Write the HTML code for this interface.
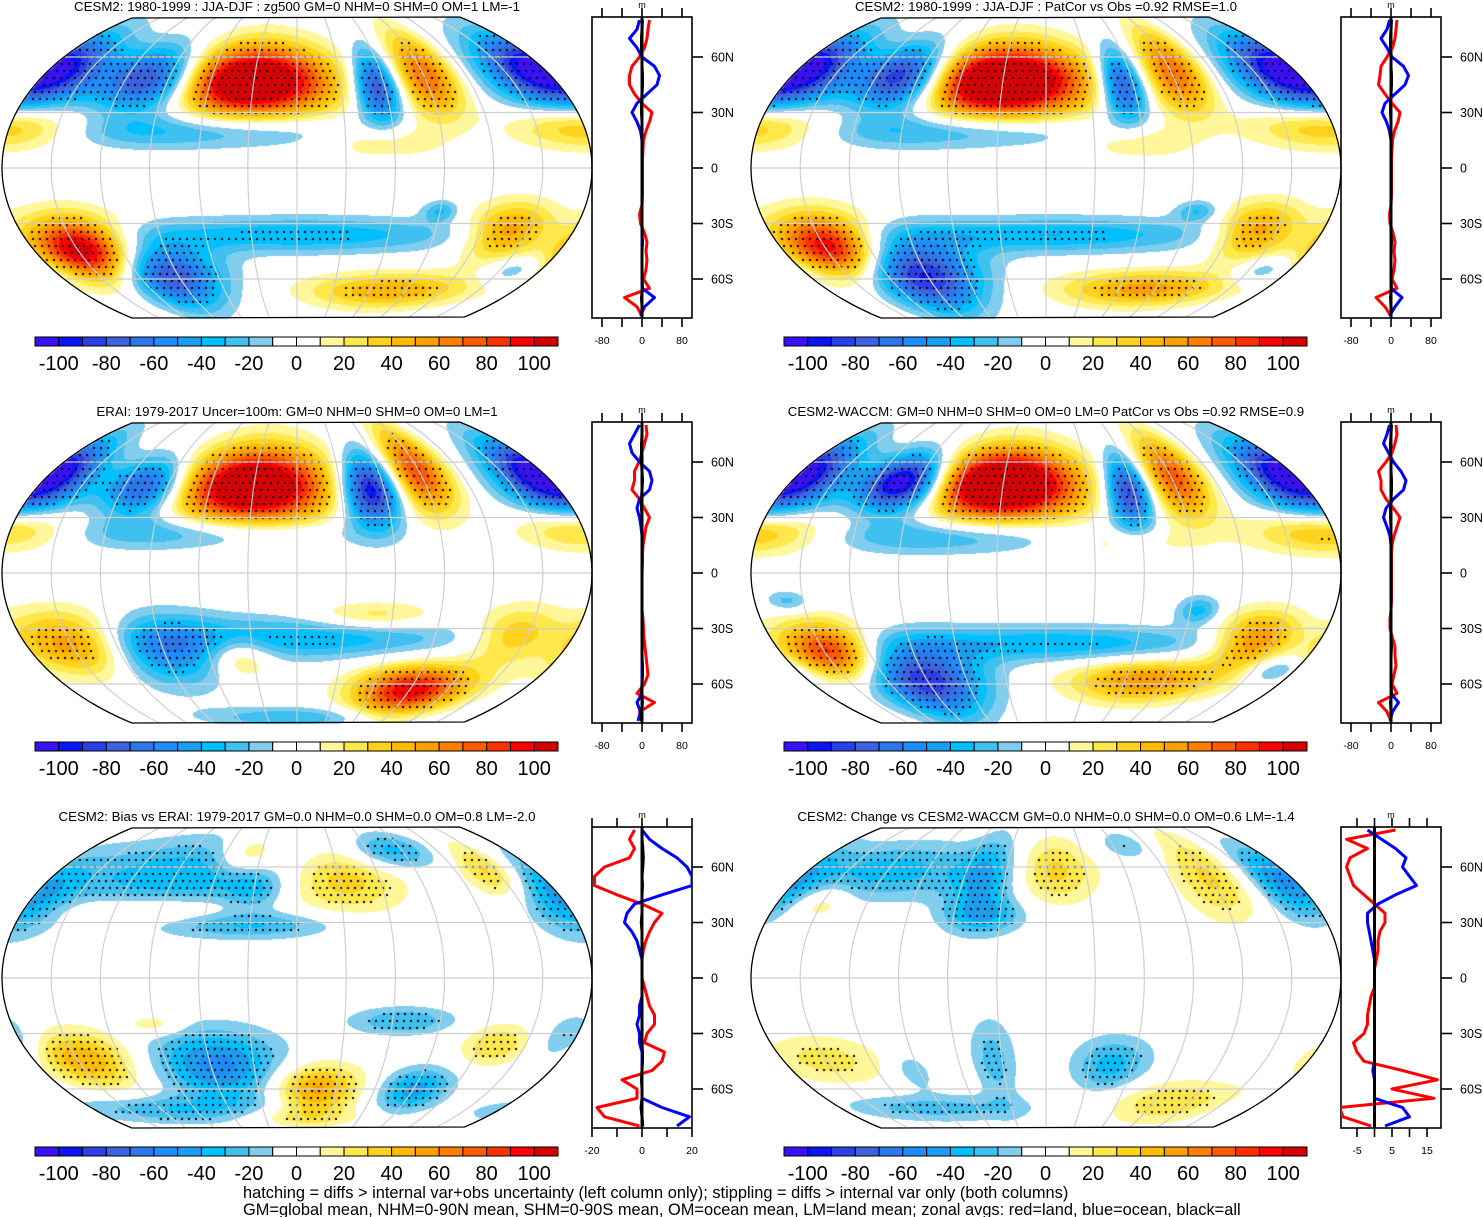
<!DOCTYPE html>
<html><head><meta charset="utf-8">
<style>
html,body{margin:0;padding:0;background:#fff;}
#wrap{position:relative;width:1483px;height:1217px;overflow:hidden;font-family:"Liberation Sans",sans-serif;}
canvas,svg{position:absolute;left:0;top:0;}
</style></head>
<body>
<div id="wrap">
<canvas id="cv" width="1483" height="1217"></canvas>
<svg id="sv" width="1483" height="1217" xmlns="http://www.w3.org/2000/svg">
<text x="243" y="1198" font-size="16.4" font-family="Liberation Sans, sans-serif">hatching = diffs &gt; internal var+obs uncertainty (left column only); stippling = diffs &gt; internal var only (both columns)</text>
<text x="243" y="1215" font-size="16.4" font-family="Liberation Sans, sans-serif">GM=global mean, NHM=0-90N mean, SHM=0-90S mean, OM=ocean mean, LM=land mean; zonal avgs: red=land, blue=ocean, black=all</text>
</svg>
</div>
<script>
// ---------- data ----------
const titles = [
 "CESM2: 1980-1999 : JJA-DJF : zg500 GM=0 NHM=0 SHM=0 OM=1 LM=-1",
 "CESM2: 1980-1999 : JJA-DJF : PatCor vs Obs =0.92 RMSE=1.0",
 "ERAI: 1979-2017 Uncer=100m: GM=0 NHM=0 SHM=0 OM=0 LM=1",
 "CESM2-WACCM: GM=0 NHM=0 SHM=0 OM=0 LM=0 PatCor vs Obs =0.92 RMSE=0.9",
 "CESM2: Bias vs ERAI: 1979-2017 GM=0.0 NHM=0.0 SHM=0.0 OM=0.8 LM=-2.0",
 "CESM2: Change vs CESM2-WACCM GM=0.0 NHM=0.0 SHM=0.0 OM=0.6 LM=-1.4"
];
const cbLabels = [-100,-80,-60,-40,-20,0,20,40,60,80,100];
const cbColors = ["#3a10f5","#0a14f5","#2a40e6","#3d62dd","#2c78ea","#1e8cff","#1a9ff0","#00bfff","#40c0ee","#80cdee","#ffffff","#ffffff","#fff799","#ffe84c","#ffd21e","#ffbb00","#ffa000","#ff8000","#ff5a00","#ff3000","#ff0000","#d60000"];
// field anomalies: [dlon from map centre, lat, sigmaLon, sigmaLat, amplitude(m)]
const field1 = [[-32,47,25,10,140],[-101,48,15,9,-100],[178,52,18,10,-120],[54,44,7,10,-90],[91,50,10,12,70],[-62,20,45,5,-35],[180,22,20,6,50],[52,15,15,5,25],[-146,-44,15,9,120],[-98,-58,18,9,-85],[2,-36,50,5,-40],[76,-66,30,5,50],[137,-34,12,8,60],[90,-23,5,3,-30],[160,-55,10,4,-25]];
const field2 = [[-30,47,26,10,150],[-100,49,14,9,-110],[178,52,18,10,-125],[52,45,7,10,-90],[92,52,10,12,70],[-62,20,45,5,-35],[178,22,22,6,50],[55,15,15,5,25],[-146,-42,15,9,110],[-95,-58,20,10,-95],[5,-36,50,5,-40],[80,-65,30,5,55],[137,-34,12,8,60],[95,-23,6,3,-30],[160,-55,10,4,-25]];
const field3 = [[-30,47,24,11,135],[-105,47,12,8,-85],[178,52,15,10,-125],[50,45,9,10,-110],[88,55,10,12,80],[-62,22,40,5,-35],[180,24,18,6,45],[-146,-38,18,9,70],[-95,-42,20,10,-55],[-40,-45,10,6,35],[90,-63,20,7,100],[140,-33,12,8,40],[48,-23,18,4,30],[0,-35,50,6,-40],[-5,-78,40,3,-30]];
const field4 = [[-30,48,24,10,150],[-100,49,13,8,-130],[178,52,16,10,-120],[56,44,7,10,-95],[92,52,10,12,75],[-62,20,40,5,-35],[178,22,22,6,50],[45,17,18,4,20],[-146,-42,14,8,95],[-92,-58,20,10,-90],[5,-38,50,5,-40],[75,-58,25,6,60],[137,-36,12,8,65],[95,-20,6,4,-35],[165,-52,10,4,-30],[-160,-15,6,3,-25]];
const field5 = [[-80,56,45,10,-40],[-30,48,8,6,-20],[-90,37,30,4,20],[-30,29,25,4,-30],[30,53,20,9,45],[-40,66,12,6,35],[80,69,15,5,-35],[145,58,10,8,40],[178,42,12,10,-40],[66,-23,15,4,-30],[-90,-25,8,3,20],[-145,-44,15,8,50],[-55,-47,20,10,-55],[14,-60,15,7,55],[90,-60,12,6,-45],[130,-36,10,6,30],[175,-33,8,7,-25],[-110,-71,40,4,-30],[-5,-75,30,3,20]];
const field6 = [[-120,58,35,8,-35],[-45,53,10,12,-35],[-40,34,12,5,-30],[6,58,14,9,35],[70,72,10,4,-20],[120,55,12,12,35],[170,50,10,10,-40],[-150,41,8,5,20],[-150,-44,18,7,25],[-95,-50,6,5,-20],[-36,-44,7,12,-25],[45,-47,12,8,-35],[-100,-70,40,4,-25],[105,-67,25,6,30]];
const fields = [field1,field2,field3,field4,field5,field6];
const stippleThr = [35,35,35,35,18,18];

// zonal profiles (lat 80N .. 80S every 5 deg)
const profLats = [80,75,70,65,60,55,50,45,40,35,30,25,20,15,10,5,0,-5,-10,-15,-20,-25,-30,-35,-40,-45,-50,-55,-60,-65,-70,-75,-80];
const red1  = [15,12,10,5,-5,-20,-25,-25,-15,0,20,15,8,3,2,1,1,1,1,1,0,-5,-3,5,10,8,10,8,3,15,-35,-10,0];
const blue1 = [-5,-10,-25,-10,0,25,35,30,10,-10,-20,-10,-3,0,0,0,0,0,0,0,0,0,0,0,0,0,0,0,0,0,25,5,-3];
const blk1  = [1,0,-1,-1,0,0,1,1,0,-1,-1,0,0,0,0,0,0,0,0,0,0,0,0,0,1,0,0,0,0,1,-1,0,0];
const red2  = [12,10,8,3,-8,-20,-22,-25,-12,2,18,14,7,3,2,1,1,1,1,1,0,-3,-2,4,8,6,8,6,2,12,-30,-12,0];
const blue2 = [-3,-8,-20,-8,2,25,35,28,8,-12,-18,-9,-3,0,0,0,0,0,0,0,0,0,0,0,0,0,0,0,0,0,22,8,-3];
const blk2  = [1,0,-1,-1,0,0,1,1,0,-1,-1,0,0,0,0,0,0,0,0,0,0,0,0,0,1,0,0,0,0,1,-1,0,0];
const red3  = [8,10,5,0,-6,-15,-15,-20,-5,5,15,8,5,2,1,1,0,0,0,0,0,2,3,4,6,8,10,12,5,-10,25,-5,0];
const blue3 = [-5,-15,-25,-20,-5,15,20,15,-5,-10,-5,-2,0,0,0,0,0,0,0,0,0,0,0,0,0,0,0,0,0,0,-10,-3,-8];
const blk3  = [0,0,-1,-1,-1,0,1,0,-1,-1,0,0,0,0,0,0,0,0,0,0,0,0,0,0,0,0,1,1,0,-1,1,-1,-1];
const red4  = [10,12,8,2,-10,-25,-20,-20,-10,5,18,12,6,2,1,1,1,1,1,1,0,-2,-2,3,8,8,10,6,2,12,-25,-8,0];
const blue4 = [-3,-8,-15,-5,5,20,30,25,5,-10,-15,-8,-2,0,0,0,0,0,0,0,0,0,0,0,0,0,0,0,0,0,15,3,-2];
const blk4  = [1,0,-1,-1,0,0,1,1,0,-1,-1,0,0,0,0,0,0,0,0,0,0,0,0,0,1,0,0,0,0,1,-1,0,0];
const red5  = [-3,-5,-3,-5,-15,-19,-19,-10,0,8,5,3,1.5,0.5,0,0,0,1,2,3,5,5,2,1,9,8,4,-8,-2,-2,-18,-15,-1];
const blue5 = [0,3,8,14,18,20,20,8,-3,-6,-7,-4,-2,-1,0,0,0,0,0,-1,-1,-2,-1,-1,0,0,0,0,0,0,8,19,14];
const blk5  = [0,0,0.3,0.5,0.3,0,0.2,0,0,0,-0.3,0,0,0,0,0,0,0,0,0,0,0,0,0,0.2,0.2,0,-0.2,0,0,-0.4,0,0.3];
const red6  = [6,-8,-2,-7,-8,-7,-6,-3,0,3,3,1.5,1,1,0.5,0,0,0,-1,-1.5,-2,-2,-3,-6,-5,-3,8,18,5,17,-10,-9,-1];
const blue6 = [-2,2,6,9,8,10,12,6,1,-2,-2,-1.5,-1,-0.5,0,0,0,0,0,0,0,0,0,0,0,0,-0.5,0,0,0,8,10,3];
const blk6  = [0,0,0,0,0,0,0,0,0,0,0,0,0,0,0,0,0,0,0,0,0,0,0,0,0,0,0,0,0,0,0,0,0];
const profRed  = [red1,red2,red3,red4,red5,red6];
const profBlue = [blue1,blue2,blue3,blue4,blue5,blue6];
const profBlk  = [blk1,blk2,blk3,blk4,blk5,blk6];
const profTicks  = [[-80,-40,0,40,80],[-80,-40,0,40,80],[-80,-40,0,40,80],[-80,-40,0,40,80],[-20,-10,0,10,20],[-5,0,5,10,15]];
const profTickLabels = [["-80","0","80"],["-80","0","80"],["-80","0","80"],["-80","0","80"],["-20","0","20"],["-5","5","15"]];
const profTickLabelVals = [[-80,0,80],[-80,0,80],[-80,0,80],[-80,0,80],[-20,0,20],[-5,5,15]];
const profZeroX = [642,642,642,642,642,625.5];
const profScale = [0.5,0.5,0.5,0.5,2.5,3.5];
const latLabels = ["60N","30N","0","30S","60S"];
const latVals = [60,30,0,-30,-60];
const meridians = [-150,-120,-90,-60,-30,0,30,60,90,120,150];
const parallels = [60,30,0,-30,-60];

// ---------- geometry ----------
const CX=297, CY=168, RX=295, RY=181, YT=17, YB=318, LATPX=1.85;
const SLF=1.55, SAF=1.35; // blob spread factors
function offs(i){return [ (i%2)*749, Math.floor(i/2)*405 ];}
function latY(lat){return CY - lat*LATPX;}
function fac(y){const d=(y-CY)/RY; return Math.sqrt(Math.max(0,1-d*d));}
function lonX(dlon,y){return CX + dlon/180*RX*fac(y);}
function colorIdx(v){let k=Math.floor(v/10)+11; return Math.max(0,Math.min(21,k));}
function fieldVal(blobs,dlon,lat){
  let s=0;
  for(const b of blobs){
    let dl=dlon-b[0]; dl=((dl+540)%360)-180;
    const a=dl/(b[2]*SLF), c=(lat-b[1])/(b[3]*SAF);
    s+=b[4]*Math.exp(-0.5*(a*a+c*c));
  }
  return s;
}
function hex(c){return [parseInt(c.substr(1,2),16),parseInt(c.substr(3,2),16),parseInt(c.substr(5,2),16)];}
const rgb = cbColors.map(hex);

// ---------- draw fields ----------
const cv=document.getElementById('cv'), ctx=cv.getContext('2d');
ctx.fillStyle='#fff'; ctx.fillRect(0,0,1483,1217);
const img=ctx.getImageData(0,0,1483,1217), D=img.data;
for(let p=0;p<6;p++){
  const [ox,oy]=offs(p), blobs=fields[p];
  for(let y=YT;y<=YB;y++){
    const f=fac(y), hw=RX*f, lat=(CY-y)/LATPX;
    for(let x=Math.ceil(CX-hw);x<=Math.floor(CX+hw);x++){
      const dlon=(x-CX)/hw*180;
      const v=fieldVal(blobs,dlon,lat);
      const c=rgb[colorIdx(v)];
      const idx=((y+oy)*1483+(x+ox))*4;
      D[idx]=c[0];D[idx+1]=c[1];D[idx+2]=c[2];D[idx+3]=255;
    }
  }
}
ctx.putImageData(img,0,0);
ctx.fillStyle='#000';
for(let p=0;p<6;p++){
  const [ox,oy]=offs(p), blobs=fields[p];
  for(let r=0, y=YT+4; y<YB-2; y+=7, r++){
    const f=fac(y), hw=RX*f, lat=(CY-y)/LATPX;
    for(let x=CX-hw+4+(r%2)*3.5; x<CX+hw-3; x+=7){
      const v=fieldVal(blobs,(x-CX)/hw*180,lat);
      if(Math.abs(v)>stippleThr[p]) ctx.fillRect(Math.round(x+ox),Math.round(y+oy),2,2);
    }
  }
}

// ---------- svg overlay ----------
const NS='http://www.w3.org/2000/svg', sv=document.getElementById('sv');
function el(tag,attrs,parent){const e=document.createElementNS(NS,tag);for(const k in attrs)e.setAttribute(k,attrs[k]);(parent||sv).appendChild(e);return e;}

for(let p=0;p<6;p++){
  const [ox,oy]=offs(p);
  const g=el('g',{transform:`translate(${ox},${oy})`});
  
  
  const cp=el('clipPath',{id:'clip'+p},g);
  el('rect',{x:0,y:YT,width:600,height:YB-YT},cp);
  const mg=el('g',{'clip-path':`url(#clip${p})`},g);
  
  
  for(const la of parallels){
    const y=latY(la), hw=RX*fac(y);
    const l=el('line',{x1:CX-hw,x2:CX+hw,y1:y,y2:y,stroke:'#cfcfcf','stroke-width':1.2},mg);
    
    
  }
  for(const m of meridians){
    let d='';
    for(let y=YT;y<=YB;y+=3){d+=(y===YT?'M':'L')+lonX(m,y).toFixed(1)+','+y+' ';}
    const l=el('path',{d:d,fill:'none',stroke:'#cfcfcf','stroke-width':1.2},mg);
    
    
  }
  let d='';
  for(let y=YT;y<=YB;y+=2){d+=(y===YT?'M':'L')+(CX+RX*fac(y)).toFixed(1)+','+y+' ';}
  for(let y=YB;y>=YT;y-=2){d+='L'+(CX-RX*fac(y)).toFixed(1)+','+y+' ';}
  d+='Z';
  const ol=el('path',{d:d,fill:'none',stroke:'#000','stroke-width':1.3},g);
  
  
  const t=el('text',{x:CX,y:11,'text-anchor':'middle','font-size':13.3},g);
  t.textContent=titles[p];
  
  
  const cb=el('g',{},g);
  
  
  const bw=523/22;
  cbColors.forEach((c,i)=>{
    const r=el('rect',{x:35+i*bw,y:337,width:bw,height:9,fill:c,stroke:'#000','stroke-width':1},cb);
    
    
  });
  cbLabels.forEach(v=>{
    const k=(v+110)/10;
    const tx=el('text',{x:35+k*bw,y:370,'text-anchor':'middle','font-size':20},cb);
    tx.textContent=String(v);
    
    
  });
  const pg=el('g',{},g);
  
  
  const z=profZeroX[p], sc=profScale[p];
  const px=v=>z+v*sc;
  el('rect',{x:592,y:17,width:100,height:301,fill:'none',stroke:'#000','stroke-width':1.6},pg);
  profTicks[p].forEach(v=>{
    el('line',{x1:px(v),x2:px(v),y1:17,y2:8,stroke:'#000','stroke-width':1.6},pg);
    el('line',{x1:px(v),x2:px(v),y1:318,y2:327,stroke:'#000','stroke-width':1.6},pg);
  });
  profTickLabelVals[p].forEach((v,i)=>{
    const tx=el('text',{x:px(v),y:344,'text-anchor':'middle','font-size':10.5},pg);
    tx.textContent=profTickLabels[p][i];
    
    
  });
  latVals.forEach((la,i)=>{
    const y=latY(la);
    el('line',{x1:692,x2:703,y1:y,y2:y,stroke:'#000','stroke-width':1.6},pg);
    const tx=el('text',{x:711,y:y+4.5,'font-size':12.5},pg);
    tx.textContent=latLabels[i];
    
    
  });
  const mt=el('text',{x:642,y:8,'text-anchor':'middle','font-size':9},pg);
  mt.textContent='m';
  
  
  const cpp=el('clipPath',{id:'pclip'+p},g);
  el('rect',{x:592,y:17,width:100,height:301},cpp);
  const lg=el('g',{'clip-path':`url(#pclip${p})`},pg);
  function series(arr,color,w,name){
    const pts=arr.map((v,i)=>px(v).toFixed(1)+','+latY(profLats[i]).toFixed(1)).join(' ');
    const pl=el('polyline',{points:pts,fill:'none',stroke:color,'stroke-width':w,'stroke-linejoin':'round'},lg);
    
    
  }
  el('line',{x1:z,x2:z,y1:17,y2:318,stroke:'#000','stroke-width':3},lg);
  series(profRed[p],'#ff0000',3,'land-zonal-mean');
  series(profBlue[p],'#0000ff',3,'ocean-zonal-mean');
  series(profBlk[p],'#000',3,'all-zonal-mean');
}
</script>
</body></html>
